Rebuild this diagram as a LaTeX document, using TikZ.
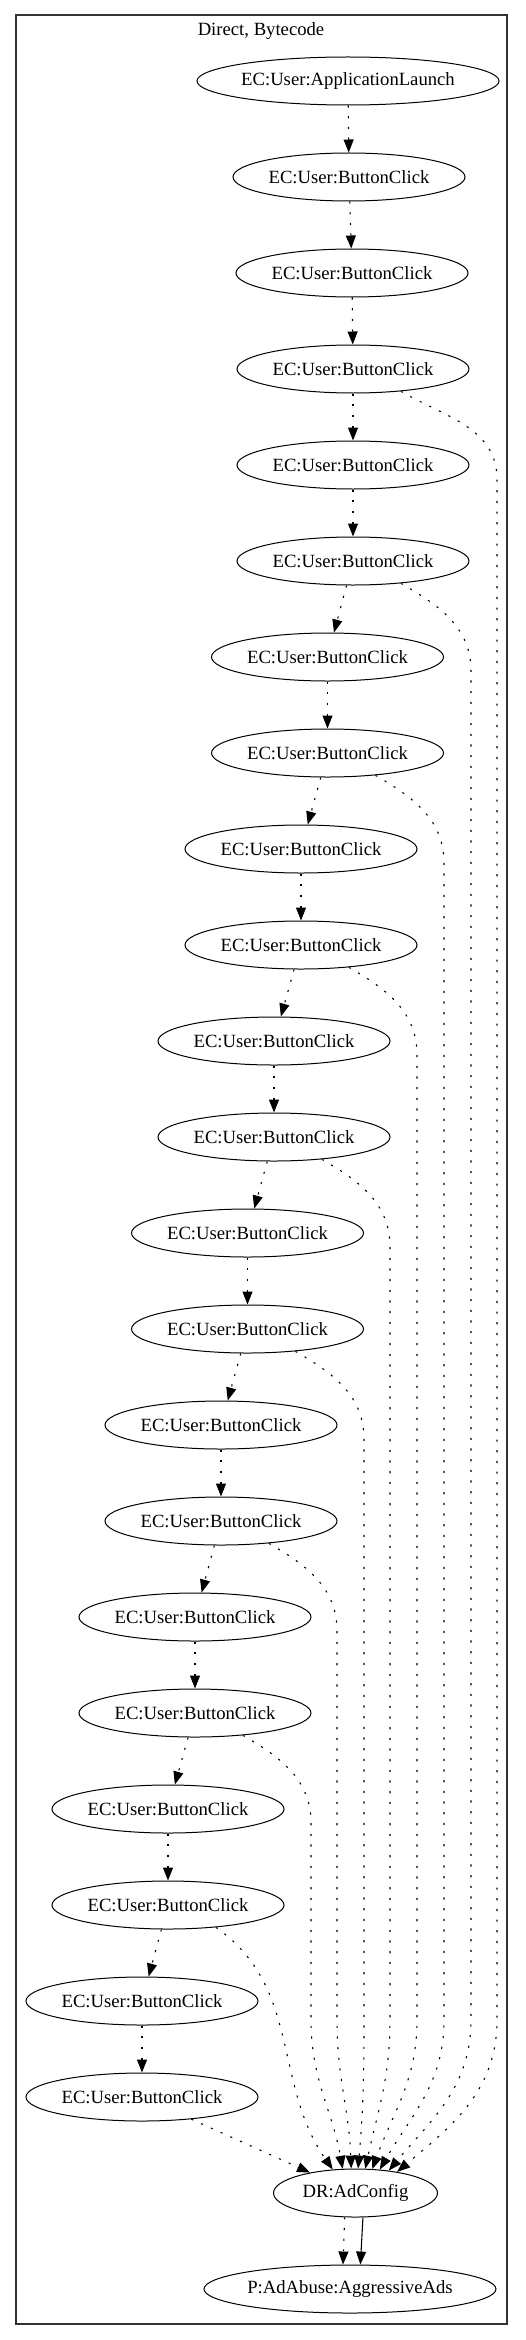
\documentclass[tikz,border=0pt]{standalone}
\usepackage{fontspec}
\setmainfont{Liberation Serif}
\usepackage{tikz}
\usetikzlibrary{arrows.meta,shapes.geometric}

\begin{document}
\begin{tikzpicture}[
    x=0.75pt, y=-0.75pt,
    event/.style={ellipse, draw=black, line width=0.75pt, inner sep=0pt, minimum width=174pt, minimum height=36pt, font=\fontsize{14}{16}\selectfont},
    cluster/.style={draw=black!80, line width=0.9pt},
    edge/.style={-{Triangle[length=9.75pt, width=7.5pt]}, line width=0.8pt, dash pattern=on 1.6pt off 6.4pt},
    flow/.style={-{Triangle[length=9.75pt, width=7.5pt]}, line width=0.8pt},
]
\useasboundingbox (0,0) rectangle (525,2340);

% === CLUSTER FRAME ===
\draw[cluster] (16,15) rectangle (507,2324);
\node[font=\fontsize{14}{16}\selectfont] (title) at (261,31) {Direct, Bytecode};

% === EVENT CHAIN (one column, 96px apart) ===
\node[event, minimum width=224pt] (launch) at (348, 81) {EC:User:ApplicationLaunch};
\node[event] (click1)  at (349,   177) {EC:User:ButtonClick};
\node[event] (click2)  at (352,   273) {EC:User:ButtonClick};
\node[event] (click3)  at (353,   369) {EC:User:ButtonClick};
\node[event] (click4)  at (353,   465) {EC:User:ButtonClick};
\node[event] (click5)  at (353,   561) {EC:User:ButtonClick};
\node[event] (click6)  at (327.5, 657) {EC:User:ButtonClick};
\node[event] (click7)  at (327.5, 753) {EC:User:ButtonClick};
\node[event] (click8)  at (301,   849) {EC:User:ButtonClick};
\node[event] (click9)  at (301,   945) {EC:User:ButtonClick};
\node[event] (click10) at (274,  1041) {EC:User:ButtonClick};
\node[event] (click11) at (274,  1137) {EC:User:ButtonClick};
\node[event] (click12) at (247.5,1233) {EC:User:ButtonClick};
\node[event] (click13) at (247.5,1329) {EC:User:ButtonClick};
\node[event] (click14) at (221,  1425) {EC:User:ButtonClick};
\node[event] (click15) at (221,  1521) {EC:User:ButtonClick};
\node[event] (click16) at (195,  1617) {EC:User:ButtonClick};
\node[event] (click17) at (195,  1713) {EC:User:ButtonClick};
\node[event] (click18) at (168,  1809) {EC:User:ButtonClick};
\node[event] (click19) at (168,  1905) {EC:User:ButtonClick};
\node[event] (click20) at (142,  2001) {EC:User:ButtonClick};
\node[event] (click21) at (142,  2097) {EC:User:ButtonClick};

% === DATA RESOURCE + POLICY ===
\node[event, minimum width=123pt] (cfg) at (355.5,2193) {DR:AdConfig};
\node[event, minimum width=219pt] (ads) at (350,  2289) {P:AdAbuse:AggressiveAds};

% --- (A) sequence edges ---
\draw[edge] (launch) -- (click1);
\draw[edge] (click1) -- (click2);
\draw[edge] (click2) -- (click3);
\draw[edge] (click3) -- (click4);
\draw[edge] (click4) -- (click5);
\draw[edge] (click5) -- (click6);
\draw[edge] (click6) -- (click7);
\draw[edge] (click7) -- (click8);
\draw[edge] (click8) -- (click9);
\draw[edge] (click9) -- (click10);
\draw[edge] (click10) -- (click11);
\draw[edge] (click11) -- (click12);
\draw[edge] (click12) -- (click13);
\draw[edge] (click13) -- (click14);
\draw[edge] (click14) -- (click15);
\draw[edge] (click15) -- (click16);
\draw[edge] (click16) -- (click17);
\draw[edge] (click17) -- (click18);
\draw[edge] (click18) -- (click19);
\draw[edge] (click19) -- (click20);
\draw[edge] (click20) -- (click21);
\draw[edge] (click21) -- (cfg);

% --- (B) reads of the ad config (vertical lanes on the right) ---
\draw[edge] (click3.-25)  to[out=-30, in=90] (497, 479) -- (497,2020) to[out=-90, in=40]  (cfg.27);
\draw[edge] (click5.-25)  to[out=-30, in=90] (471, 671) -- (471,2020) to[out=-90, in=50]  (cfg.34);
\draw[edge] (click7.-25)  to[out=-30, in=90] (444, 863) -- (444,2020) to[out=-90, in=60]  (cfg.44);
\draw[edge] (click9.-25)  to[out=-30, in=90] (417,1055) -- (417,2020) to[out=-90, in=70]  (cfg.55);
\draw[edge] (click11.-25) to[out=-30, in=90] (390,1247) -- (390,2020) to[out=-90, in=78]  (cfg.68);
\draw[edge] (click13.-25) to[out=-30, in=90] (364,1439) -- (364,2020) to[out=-90, in=85]  (cfg.84);
\draw[edge] (click15.-25) to[out=-30, in=90] (337,1631) -- (337,2020) to[out=-90, in=92]  (cfg.100);
\draw[edge] (click17.-25) to[out=-30, in=90] (311,1823) -- (311,2020) to[out=-90, in=100] (cfg.118);
\draw[edge] (click19.-25) to[out=-35, in=125] (cfg.134);

% --- (C) config -> policy ---
\draw[edge] (cfg.-114) -- (ads.106);
\draw[flow] (cfg.-73)  -- (ads.67);

\end{tikzpicture}
\end{document}
